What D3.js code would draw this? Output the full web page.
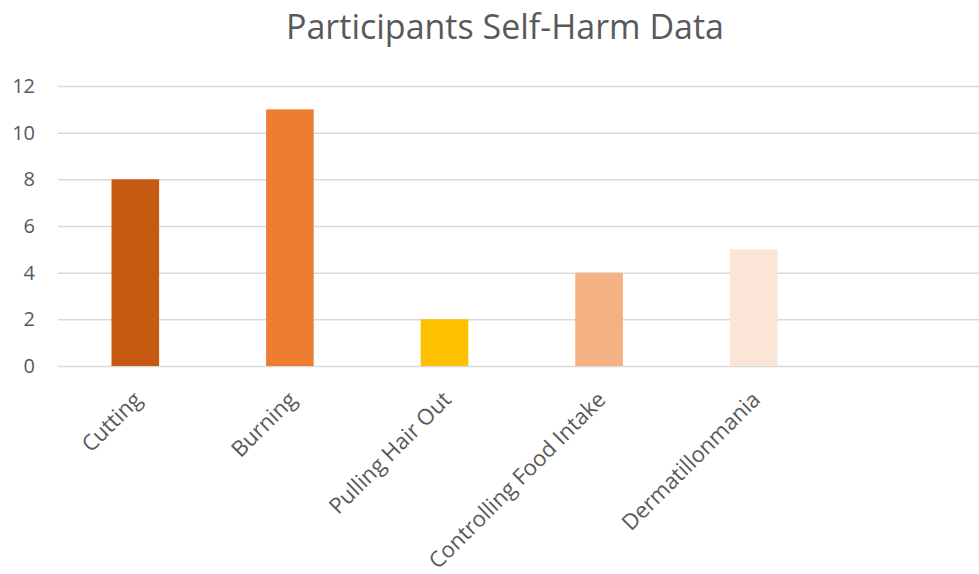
<!DOCTYPE html>
<html>
<head>
<meta charset="utf-8">
<script src="https://cdn.jsdelivr.net/npm/d3@7"></script>
<style>
  html, body { margin: 0; padding: 0; background: #fff; }
  svg { display: block; }
</style>
</head>
<body>
<svg id="chart" width="979" height="574"></svg>
<script>
// Self-harm methods reported by participants
const categories = ["Cutting", "Burning", "Pulling Hair Out", "Controlling Food Intake", "Dermatillonmania"];
const counts = [8, 11, 2, 4, 5];
const barColors = ["#C55A11", "#ED7D31", "#FFC000", "#F4B183", "#FBE5D6"];
const yTicks = [0, 2, 4, 6, 8, 10, 12];
const title = "Participants Self-Harm Data";

const W = 979, H = 574;
const plot = { left: 58, right: 979, top: 86, bottom: 366 };
const step = 154.6;
const font = "'Open Sans', 'Noto Sans', sans-serif";
const textColor = "#595959";

const svg = d3.select("#chart");

const x = d3.scaleBand()
  .domain(categories)
  .range([plot.left, plot.left + step * categories.length])
  .paddingInner(0.692)
  .paddingOuter(0.346);

const y = d3.scaleLinear()
  .domain([0, 12])
  .range([plot.bottom, plot.top]);

// Title
svg.append("text")
  .attr("x", 505)
  .attr("y", 39)
  .attr("text-anchor", "middle")
  .attr("font-family", font)
  .attr("font-size", 34)
  .attr("fill", textColor)
  .text(title);

// Horizontal gridlines with value labels
const yAxis = d3.axisLeft(y)
  .tickValues(yTicks)
  .tickSize(-(plot.right - plot.left))
  .tickPadding(23);

const gy = svg.append("g")
  .attr("transform", `translate(${plot.left},0)`)
  .call(yAxis);
gy.select(".domain").remove();
gy.selectAll(".tick line").attr("stroke", "#D9D9D9").attr("stroke-width", 1.5);
gy.selectAll(".tick text")
  .attr("font-family", font)
  .attr("font-size", 20)
  .attr("fill", textColor);

// Bars
svg.append("g")
  .selectAll("rect")
  .data(categories)
  .join("rect")
  .attr("x", d => x(d))
  .attr("y", (d, i) => y(counts[i]))
  .attr("width", x.bandwidth())
  .attr("height", (d, i) => y(0) - y(counts[i]))
  .attr("fill", (d, i) => barColors[i]);

// Category labels, rotated
const gx = svg.append("g")
  .attr("transform", `translate(0,${plot.bottom})`)
  .call(d3.axisBottom(x).tickSize(0).tickPadding(0));
gx.select(".domain").remove();
gx.selectAll(".tick text")
  .attr("font-family", font)
  .attr("font-size", 22)
  .attr("fill", textColor)
  .attr("text-anchor", "end")
  .attr("dy", null)
  .attr("transform", "translate(8,35) rotate(-45)");
</script>
</body>
</html>
